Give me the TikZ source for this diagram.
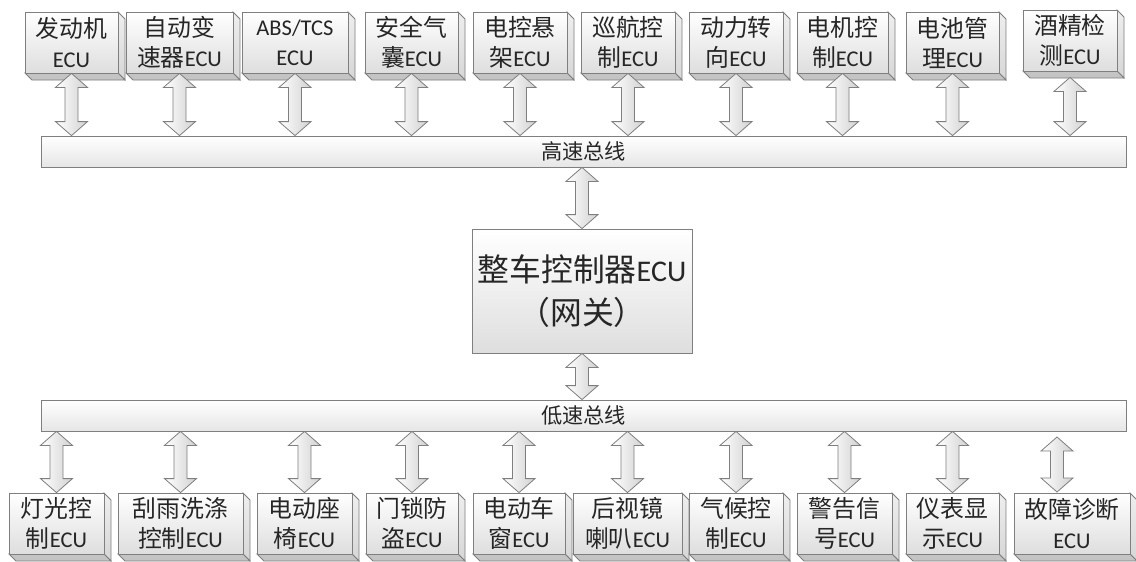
\documentclass[tikz,border=0pt]{standalone}
\usepackage{fontspec}
\setmainfont{Carlito}
\newfontfamily\cjk[Scale=1.06]{Noto Sans CJK SC}
\usetikzlibrary{calc}
\definecolor{edgec}{HTML}{7F7F7F}
\definecolor{sider}{HTML}{D6D6D6}
\definecolor{sideb}{HTML}{C4C4C4}
\definecolor{frontb}{HTML}{DEDEDE}
\definecolor{busb}{HTML}{E6E6E6}
\definecolor{txt}{HTML}{262626}
\tikzset{
  ecubox/.style={draw=edgec, line width=0.8pt, top color=white, bottom color=frontb,
    inner sep=0pt, align=center, text=txt, font=\fontsize{22.5}{30}\selectfont},
  facer/.style={draw=edgec, line width=0.8pt, top color=white!60!sider, bottom color=sider},
  faceb/.style={draw=edgec, line width=0.8pt, fill=sideb},
  busbar/.style={draw=edgec, line width=0.8pt, top color=white, bottom color=busb,
    inner sep=0pt, text=txt, font=\fontsize{20}{26}\selectfont},
  gatebox/.style={draw=edgec, line width=0.8pt, top color=white, bottom color=frontb,
    inner sep=0pt, align=center, text=txt, font=\fontsize{30}{43}\selectfont},
  dblarrow/.style={draw=edgec, line width=0.8pt, left color=white, right color=black!18},
}
% #1 name, #2 x1, #3 y1, #4 x2, #5 y2, #6 text
\newcommand\ecu[6]{%
  \pgfmathsetmacro\ecx{(#2+#4)/2}\pgfmathsetmacro\ecy{(#3+#5)/2}%
  \pgfmathsetmacro\eww{#4-#2}\pgfmathsetmacro\ehh{#5-#3}%
  \path[facer] (#4,#3) -- (#4+7,#3+7) -- (#4+7,#5+7) -- (#4,#5) -- cycle;
  \path[faceb] (#2,#5) -- (#4,#5) -- (#4+7,#5+7) -- (#2+7,#5+7) -- cycle;
  \node[ecubox, minimum width=\eww pt, minimum height=\ehh pt] (#1) at (\ecx,\ecy) {#6};
}
% double block arrow between two points (first above second)
\newcommand\dbl[2]{%
  \path[dblarrow] let \p1=#1, \p2=#2 in
    (\x1,\y1) -- (\x1+16pt,\y1-14pt) -- (\x1+6.5pt,\y1-14pt) -- (\x1+6.5pt,\y2+14pt)
    -- (\x1+16pt,\y2+14pt) -- (\x1,\y2) -- (\x1-16pt,\y2+14pt) -- (\x1-6.5pt,\y2+14pt)
    -- (\x1-6.5pt,\y1-14pt) -- (\x1-16pt,\y1-14pt) -- cycle;
}
\begin{document}
\begin{tikzpicture}[x=1pt,y=-1pt]
\useasboundingbox[fill=white] (0,0) rectangle (1136,562);
% top ECUs
\ecu{t1}{25}{12}{118}{73}{{\cjk 发动机}\\ECU}
\ecu{t2}{126}{12}{233}{73}{{\cjk 自动变}\\{\cjk 速器}ECU}
\ecu{t3}{242}{12}{348}{73}{ABS/TCS\\ECU}
\ecu{t4}{365}{12}{458}{73}{{\cjk 安全气}\\{\cjk 囊}ECU}
\ecu{t5}{473}{12}{567}{73}{{\cjk 电控悬}\\{\cjk 架}ECU}
\ecu{t6}{581}{12}{675}{73}{{\cjk 巡航控}\\{\cjk 制}ECU}
\ecu{t7}{689}{12}{783}{73}{{\cjk 动力转}\\{\cjk 向}ECU}
\ecu{t8}{797}{12}{888}{73}{{\cjk 电机控}\\{\cjk 制}ECU}
\ecu{t9}{906}{12}{999}{73}{{\cjk 电池管}\\{\cjk 理}ECU}
\ecu{t10}{1023}{10}{1117}{71}{{\cjk 酒精检}\\{\cjk 测}ECU}
% buses
\node[busbar, minimum width=1085pt, minimum height=31pt] (hb) at (583.5,151.5) {\cjk 高速总线};
\node[busbar, minimum width=1085pt, minimum height=31pt] (lb) at (583.5,415.5) {\cjk 低速总线};
% gateway
\node[gatebox, minimum width=220pt, minimum height=124pt] (gw) at (582,291)
  {{\cjk 整车控制器}ECU\\{\cjk （网关）}};
% bottom ECUs
\ecu{b1}{9}{493}{104}{554}{{\cjk 灯光控}\\{\cjk 制}ECU}
\ecu{b2}{118}{493}{243}{554}{{\cjk 刮雨洗涤}\\{\cjk 控制}ECU}
\ecu{b3}{257}{493}{352}{554}{{\cjk 电动座}\\{\cjk 椅}ECU}
\ecu{b4}{366}{493}{458}{554}{{\cjk 门锁防}\\{\cjk 盗}ECU}
\ecu{b5}{473}{493}{565}{554}{{\cjk 电动车}\\{\cjk 窗}ECU}
\ecu{b6}{573}{493}{682}{554}{{\cjk 后视镜}\\{\cjk 喇叭}ECU}
\ecu{b7}{689}{493}{783}{554}{{\cjk 气候控}\\{\cjk 制}ECU}
\ecu{b8}{797}{493}{892}{554}{{\cjk 警告信}\\{\cjk 号}ECU}
\ecu{b9}{906}{493}{999}{554}{{\cjk 仪表显}\\{\cjk 示}ECU}
\ecu{b10}{1014}{493}{1130}{554}{{\cjk 故障诊断}\\ECU}
% top arrows
\foreach \bx in {t1,t2,t3,t4,t5,t6,t7,t8,t9}{\dbl{(\bx.south)}{(\bx.south |- hb.north)}}
\coordinate (t10a) at ([yshift=-6pt]t10.south);
\dbl{(t10a)}{(t10.south |- hb.north)}
% gateway arrows
\dbl{(gw.north |- hb.south)}{(gw.north)}
\dbl{(gw.south)}{(gw.south |- lb.north)}
% bottom arrows
\foreach \bx in {b1,b2,b3,b4,b5,b6,b7,b8,b9}{\dbl{(\bx.north |- lb.south)}{(\bx.north)}}
\coordinate (b10a) at (1057,437);
\coordinate (b10b) at (1057,492);
\dbl{(b10a)}{(b10b)}
\end{tikzpicture}
\end{document}
